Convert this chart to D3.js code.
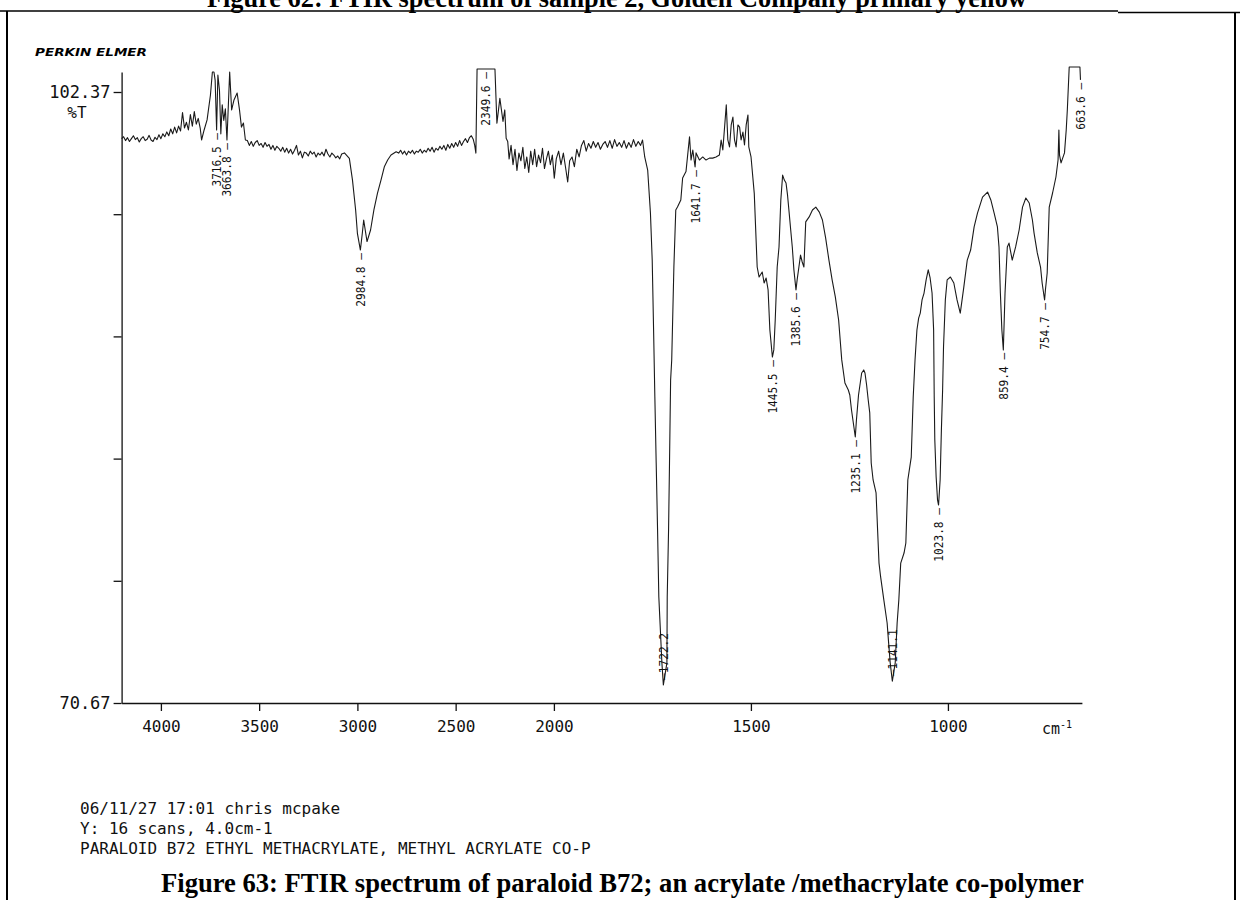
<!DOCTYPE html>
<html><head><meta charset="utf-8">
<script src="https://cdn.jsdelivr.net/npm/d3@7"></script>
<style>body{margin:0;background:#fff}svg{display:block}</style>
</head><body>
<svg id="c" width="1240" height="900"></svg>
<script>
// ---- data (wavenumber cm-1, %T) ----
const spectrumHigh = [
[4200,99.95],[4190,100.05],[4180,99.85],[4170,100.00],[4160,99.80],[4150,99.95],[4140,100.10],[4130,99.90],[4120,100.00],[4110,99.78],
[4100,99.95],[4090,100.05],[4080,99.85],[4070,99.92],[4060,100.12],[4050,99.88],[4040,99.80],[4030,100.02],[4020,99.90],[4010,100.15],
[4000,99.95],[3990,100.20],[3980,100.05],[3970,100.30],[3960,100.10],[3950,100.45],[3940,100.20],[3930,100.55],[3920,100.25],[3910,100.60],
[3900,100.35],[3890,101.30],[3880,100.50],[3870,100.80],[3860,100.40],[3850,101.20],[3840,100.60],[3830,101.35],[3820,100.70],[3810,101.00],
[3800,100.50],[3793,99.88],
[3780,100.40],[3765,100.92],[3748,102.20],[3738,103.41],[3730,103.41],[3724,102.99],[3716.5,100.40],[3710,103.25],[3702,102.47],[3695,100.20],
[3688,101.70],[3680,100.90],[3672,101.50],[3663.8,99.88],[3650,103.41],[3640,101.44],[3628,101.96],[3612,102.32],[3600,101.44],[3590,100.55],
[3580,100.76],[3570,99.88],
[3560,99.85],[3550,99.60],[3540,99.80],[3530,99.55],[3520,99.75],[3510,99.85],[3500,99.60],[3490,99.70],[3480,99.50],[3470,99.75],
[3460,99.55],[3450,99.65],[3440,99.40],[3430,99.60],[3420,99.35],[3410,99.55],[3400,99.45],[3390,99.30],[3380,99.50],[3370,99.25],
[3360,99.45],[3350,99.20],[3340,99.40],[3330,99.15],[3320,99.35],[3310,99.60],[3300,99.10],[3290,99.30],[3280,98.95],[3270,99.25],
[3260,99.20],[3250,99.05],[3240,99.30],[3230,99.15],[3220,99.25],[3210,99.00],[3200,99.20],[3190,99.10],[3180,99.25],[3170,99.05],
[3160,99.40],[3150,99.15],[3140,99.00],[3130,99.20],[3120,99.10],[3110,98.95],[3100,99.05],[3090,98.90],[3080,99.15],
[3066,99.21],[3041,98.93],[3025,97.80],[3009,96.25],[3000,95.04],[2984.8,94.17],[2975,95.04],[2968,95.73],[2951,94.61],[2933,95.21],
[2916,96.25],[2898,97.11],[2880,97.80],[2863,98.49],[2846,98.84],[2829,99.10],[2803,99.27],
[2790,99.20],[2780,99.35],[2770,99.15],[2760,99.30],[2750,99.10],[2740,99.30],[2730,99.20],[2720,99.35],[2710,99.15],[2700,99.30],
[2690,99.25],[2680,99.40],[2670,99.20],[2660,99.35],[2650,99.25],[2640,99.45],[2630,99.30],[2620,99.50],[2610,99.25],[2600,99.45],
[2590,99.35],[2580,99.55],[2570,99.40],[2560,99.60],[2550,99.35],[2540,99.65],[2530,99.45],[2520,99.70],[2510,99.50],[2500,99.75],
[2490,99.55],[2480,99.85],[2470,99.60],[2460,99.80],[2450,99.95],[2440,99.75],[2430,100.00],[2420,100.10],[2410,99.90],[2403,99.60],
[2397,99.20],[2391,103.56],[2300,103.56],
[2290,100.75],[2275,102.04],[2259,100.84],[2250,101.44],[2243,99.97],[2235,99.80],[2228,98.90],[2218,99.60],[2208,98.60],[2198,99.40],
[2188,98.30],[2178,99.20],[2168,98.80],[2158,99.50],[2148,98.40],[2138,99.00],[2128,98.20],[2118,99.30],[2108,98.60],[2098,99.40],
[2088,98.50],[2078,99.10],[2068,98.70],[2058,99.45],[2048,98.40],[2038,98.90],[2028,99.30],[2018,98.60],[2008,99.10]
];
const spectrumLow = [
[1999,97.90],[1994,98.90],[1988,99.30],[1982,98.60],[1976,99.20],[1970,98.40],[1965,97.70],[1960,98.80],[1954,99.00],[1948,98.50],
[1942,99.40],[1936,99.00],[1930,99.60],[1924,99.85],[1918,99.30],[1912,99.70],[1906,99.45],[1900,99.80],[1894,99.50],[1888,99.75],
[1882,99.40],[1876,99.65],[1870,99.80],[1864,99.50],[1858,99.85],[1852,99.45],[1846,99.90],[1840,99.55],[1834,99.75],[1828,99.50],
[1822,99.85],[1816,99.45],[1810,99.75],[1804,99.50],[1798,99.90],[1792,99.55],[1786,99.80],[1780,99.60],[1775,99.88],
[1769.5,99.00],[1762,98.32],[1755,96.09],[1750.5,93.65],[1747,90.02],[1743.8,86.56],[1740.4,83.12],[1736.9,79.65],[1733.7,76.17],[1729.8,74.46],
[1725.9,72.75],[1722.2,71.61],[1713.2,72.75],[1712.4,76.17],[1709,79.65],[1706.6,83.12],[1703.8,87.42],[1701,88.47],[1695.5,93.29],[1690.7,96.25],
[1686.4,96.40],[1677.9,96.77],[1673.3,97.91],[1664.8,98.24],[1655.8,100.05],[1652,98.84],[1647.5,99.36],[1641.7,98.48],[1639.2,99.21],[1630.7,98.84],
[1622.3,99.00],[1614,98.84],[1605.3,98.94],[1597,98.94],[1588.6,99.00],[1580,99.10],[1575.6,99.88],[1571.3,99.36],[1562.5,101.70],[1558.6,99.88],
[1554.3,99.52],[1550,100.66],[1545.7,101.07],[1541.6,99.88],[1537.6,99.52],[1533,100.66],[1528.7,100.55],[1524.9,99.88],[1520.3,100.29],[1516.3,99.62],
[1512,100.66],[1507.5,101.18],[1505.4,99.52],[1499.7,99.00],[1491.5,97.11],[1484.1,93.29],[1479.2,92.77],[1471.3,93.03],[1466.5,92.46],[1461.4,92.72],
[1456.4,92.10],[1451.9,90.02],[1445.5,88.62],[1441.9,88.99],[1438.3,90.54],[1433.3,93.29],[1428.7,94.33],[1424.1,96.77],[1419.5,98.06],[1415.2,97.80],
[1410.9,97.65],[1407.1,97.03],[1402.9,96.09],[1399,95.21],[1395,94.33],[1390.9,93.14],[1385.6,92.10],[1382.7,92.62],[1378.2,93.29],[1374.1,93.91],
[1369.8,93.55],[1365.5,93.29],[1360.9,95.63],[1352.2,95.89],[1343.8,96.25],[1335.3,96.40],[1326.4,96.14],[1318.5,95.73],[1310.4,94.80],[1302,93.65],
[1293.9,92.62],[1285.8,91.74],[1277.4,90.54],[1269.5,88.47],[1261.4,87.27],[1252.8,86.91],[1249,86.65],[1244.7,85.87],[1235.1,84.47],[1232.2,85.35],
[1226.9,86.65],[1218.9,87.79],[1213.7,87.95],[1210.5,87.79],[1206.4,87.17],[1202.3,86.39],[1198.4,85.72],[1194.7,83.12],[1189.9,82.24],[1182.4,81.57],
[1178.5,79.65],[1174.9,77.93],[1170.8,77.21],[1162.7,76.02],[1154.3,74.82],[1150.5,73.79],[1146.5,72.75],[1141.1,71.80],[1133.8,72.75],[1128.9,74.82],
[1124.6,76.02],[1119.8,77.93],[1111.4,78.45],[1106.8,78.97],[1101.8,82.24],[1093.1,83.43],[1088.1,86.55],[1083.5,88.47],[1078.7,90.02],[1074.3,90.64],
[1070.2,90.90],[1065.7,91.58],[1060.6,91.94],[1055.3,92.62],[1050,93.14],[1045.2,92.72],[1040.3,91.94],[1036.3,90.02],[1034.8,86.55],[1033.3,84.32],
[1029.9,82.40],[1026.4,81.21],[1023.8,80.94],[1019.8,82.24],[1016.6,84.83],[1013.5,86.91],[1011.2,89.14],[1006.6,91.58],[1002,92.62],[993.7,92.77],
[985,92.46],[976.9,91.58],[968.7,90.90],[959.7,92.25],[951,93.65],[942.4,94.17],[933.5,95.37],[925,96.09],[912.2,96.92],[899.4,97.18],
[891.1,96.77],[882.7,96.09],[874.4,95.37],[870.4,94.33],[866.9,91.94],[863.1,90.02],[859.4,88.99],[855.1,91.94],[849.3,94.33],[845,94.53],
[836.8,93.65],[828.2,94.33],[819.3,95.21],[810.7,96.40],[802.3,96.87],[793.7,96.61],[785.6,95.73],[781.4,95.05],[773.2,94.02],[765,93.29],
[760.9,92.46],[754.7,91.58],[752.6,92.10],[748.1,92.98],[742.9,96.40],[734.4,97.13],[725.9,97.96],[720.5,98.84],[718.4,100.40],[716.8,99.10],
[712.9,98.69],[704.2,99.21],[699.8,100.40],[697,101.44],[692.2,103.67],[665,103.67],[663.6,103.0]
];
const xTicks = [4000, 3500, 3000, 2500, 2000, 1500, 1000];
const yTicks = [102.37, 96.03, 89.69, 83.35, 77.01, 70.67];
const yTickLabels = ["102.37", "", "", "", "", "70.67"];
const peakWavenumbers = [3716.5, 3663.8, 2984.8, 2349.6, 1722.2, 1641.7, 1445.5, 1385.6, 1235.1, 1141.1, 1023.8, 859.4, 754.7, 663.6];
const peakLabelSides = ["below","below","below","below","above","below","below","below","below","above","below","below","below","below"];
const titleText = "Figure 62: FTIR spectrum of sample 2, Golden Company primary yellow";
const captionText = "Figure 63: FTIR spectrum of paraloid B72; an acrylate /methacrylate co-polymer";
const footerLines = ["06/11/27 17:01 chris mcpake", "Y: 16 scans, 4.0cm-1", "PARALOID B72 ETHYL METHACRYLATE, METHYL ACRYLATE CO-P"];
const brandText = "PERKIN ELMER";
const yUnitText = "%T";

// ---- drawing ----
const svg = d3.select("#c");
const MONO = "'DejaVu Sans Mono', 'Liberation Mono', monospace";
const SERIF = "'Liberation Serif', 'Times New Roman', serif";
const data = spectrumHigh.concat(spectrumLow);

const x = d3.scaleLinear().domain([4200, 2000, 660]).range([121.6, 553.9, 1081.9]);
const y = d3.scaleLinear().domain([70.67, 102.37]).range([703, 92]);

// page frame (table cell borders)
const frame = svg.append("g").attr("stroke", "#000").attr("fill", "none");
frame.append("path").attr("d", "M0,11H1118").attr("stroke-width", 1.6);
frame.append("path").attr("d", "M1118,12.5H1240").attr("stroke-width", 1.6);
frame.append("path").attr("d", "M7,11V900").attr("stroke-width", 2);
frame.append("path").attr("d", "M1235,12V900").attr("stroke-width", 2);

function fitText(sel, width) {
  sel.attr("font-size", 20);
  const l = sel.node().getComputedTextLength();
  sel.attr("font-size", 20 * width / l);
}

// title (cut at the top edge as on the scanned page) and bottom caption
const t1 = svg.append("text").attr("x", 207).attr("y", 7).attr("font-family", SERIF)
  .attr("font-weight", "bold").attr("fill", "#000").text(titleText);
fitText(t1, 820);
const t2 = svg.append("text").attr("x", 161).attr("y", 892).attr("font-family", SERIF)
  .attr("font-weight", "bold").attr("fill", "#000").text(captionText);
fitText(t2, 923);

// brand
svg.append("text").attr("x", 35).attr("y", 56).attr("font-family", "'DejaVu Sans', sans-serif")
  .attr("font-weight", "bold").attr("font-style", "italic").attr("font-size", 11)
  .attr("textLength", 112).attr("lengthAdjust", "spacingAndGlyphs").attr("fill", "#000").text(brandText);

// x axis
const gx = svg.append("g").attr("transform", "translate(0,703)")
  .call(d3.axisBottom(x).tickValues(xTicks).tickSize(8).tickSizeOuter(0).tickPadding(10).tickFormat(d3.format("d")));
gx.attr("font-family", MONO).attr("font-size", 16);
gx.selectAll("path,line").attr("stroke", "#111").attr("stroke-width", 1.3);
gx.selectAll("text").attr("fill", "#111");
svg.append("text").attr("x", 1042).attr("y", 734).attr("font-family", MONO).attr("font-size", 15).attr("fill", "#111")
  .text("cm").append("tspan").attr("font-size", 10).attr("dy", -6).text("-1");

// y axis
const yTop = 103.41;
const yAxisScale = y.copy().domain([70.67, yTop]).range([y(70.67), y(yTop)]);
const gy = svg.append("g").attr("transform", `translate(${x(4200)},0)`)
  .call(d3.axisLeft(yAxisScale).tickValues(yTicks).tickSize(8).tickSizeOuter(0).tickPadding(3)
    .tickFormat((d, i) => yTickLabels[i]));
gy.attr("font-family", MONO).attr("font-size", 17);
gy.selectAll("path,line").attr("stroke", "#111").attr("stroke-width", 1.3);
gy.selectAll("text").attr("fill", "#111");
svg.append("text").attr("x", 77).attr("y", 118).attr("text-anchor", "middle").attr("font-family", MONO)
  .attr("font-size", 16).attr("fill", "#111").text(yUnitText);

// spectrum
svg.append("path").datum(data)
  .attr("d", d3.line().x(d => x(d[0])).y(d => y(d[1])))
  .attr("fill", "none").attr("stroke", "#1a1a1a").attr("stroke-width", 1.1).attr("stroke-linejoin", "round");

// peak labels
function valueAt(wn) {
  for (let i = 0; i < data.length - 1; i++) {
    const a = data[i], b = data[i + 1];
    if (wn <= a[0] && wn >= b[0]) {
      const t = a[0] === b[0] ? 0 : (a[0] - wn) / (a[0] - b[0]);
      return a[1] + t * (b[1] - a[1]);
    }
  }
  return data[data.length - 1][1];
}
const gp = svg.append("g").attr("font-family", MONO).attr("fill", "#111");
peakWavenumbers.forEach((wn, i) => {
  const side = peakLabelSides[i];
  const px = x(wn);
  const py = y(valueAt(wn)) + (side === "below" ? 3 : -5);
  const str = side === "below" ? wn.toFixed(1) + " \u2014" : "\u2014" + wn.toFixed(1);
  gp.append("text")
    .attr("transform", `translate(${px},${py}) rotate(-90)`)
    .attr("text-anchor", side === "below" ? "end" : "start")
    .attr("dy", "0.36em")
    .attr("font-size", 12.5)
    .attr("textLength", str.length * 6.7).attr("lengthAdjust", "spacingAndGlyphs")
    .text(str);
});

// footer
const gf = svg.append("g").attr("font-family", MONO).attr("font-size", 16).attr("fill", "#111");
footerLines.forEach((s, i) => {
  gf.append("text").attr("x", 80).attr("y", 814 + i * 20).text(s);
});
</script>
</body></html>
